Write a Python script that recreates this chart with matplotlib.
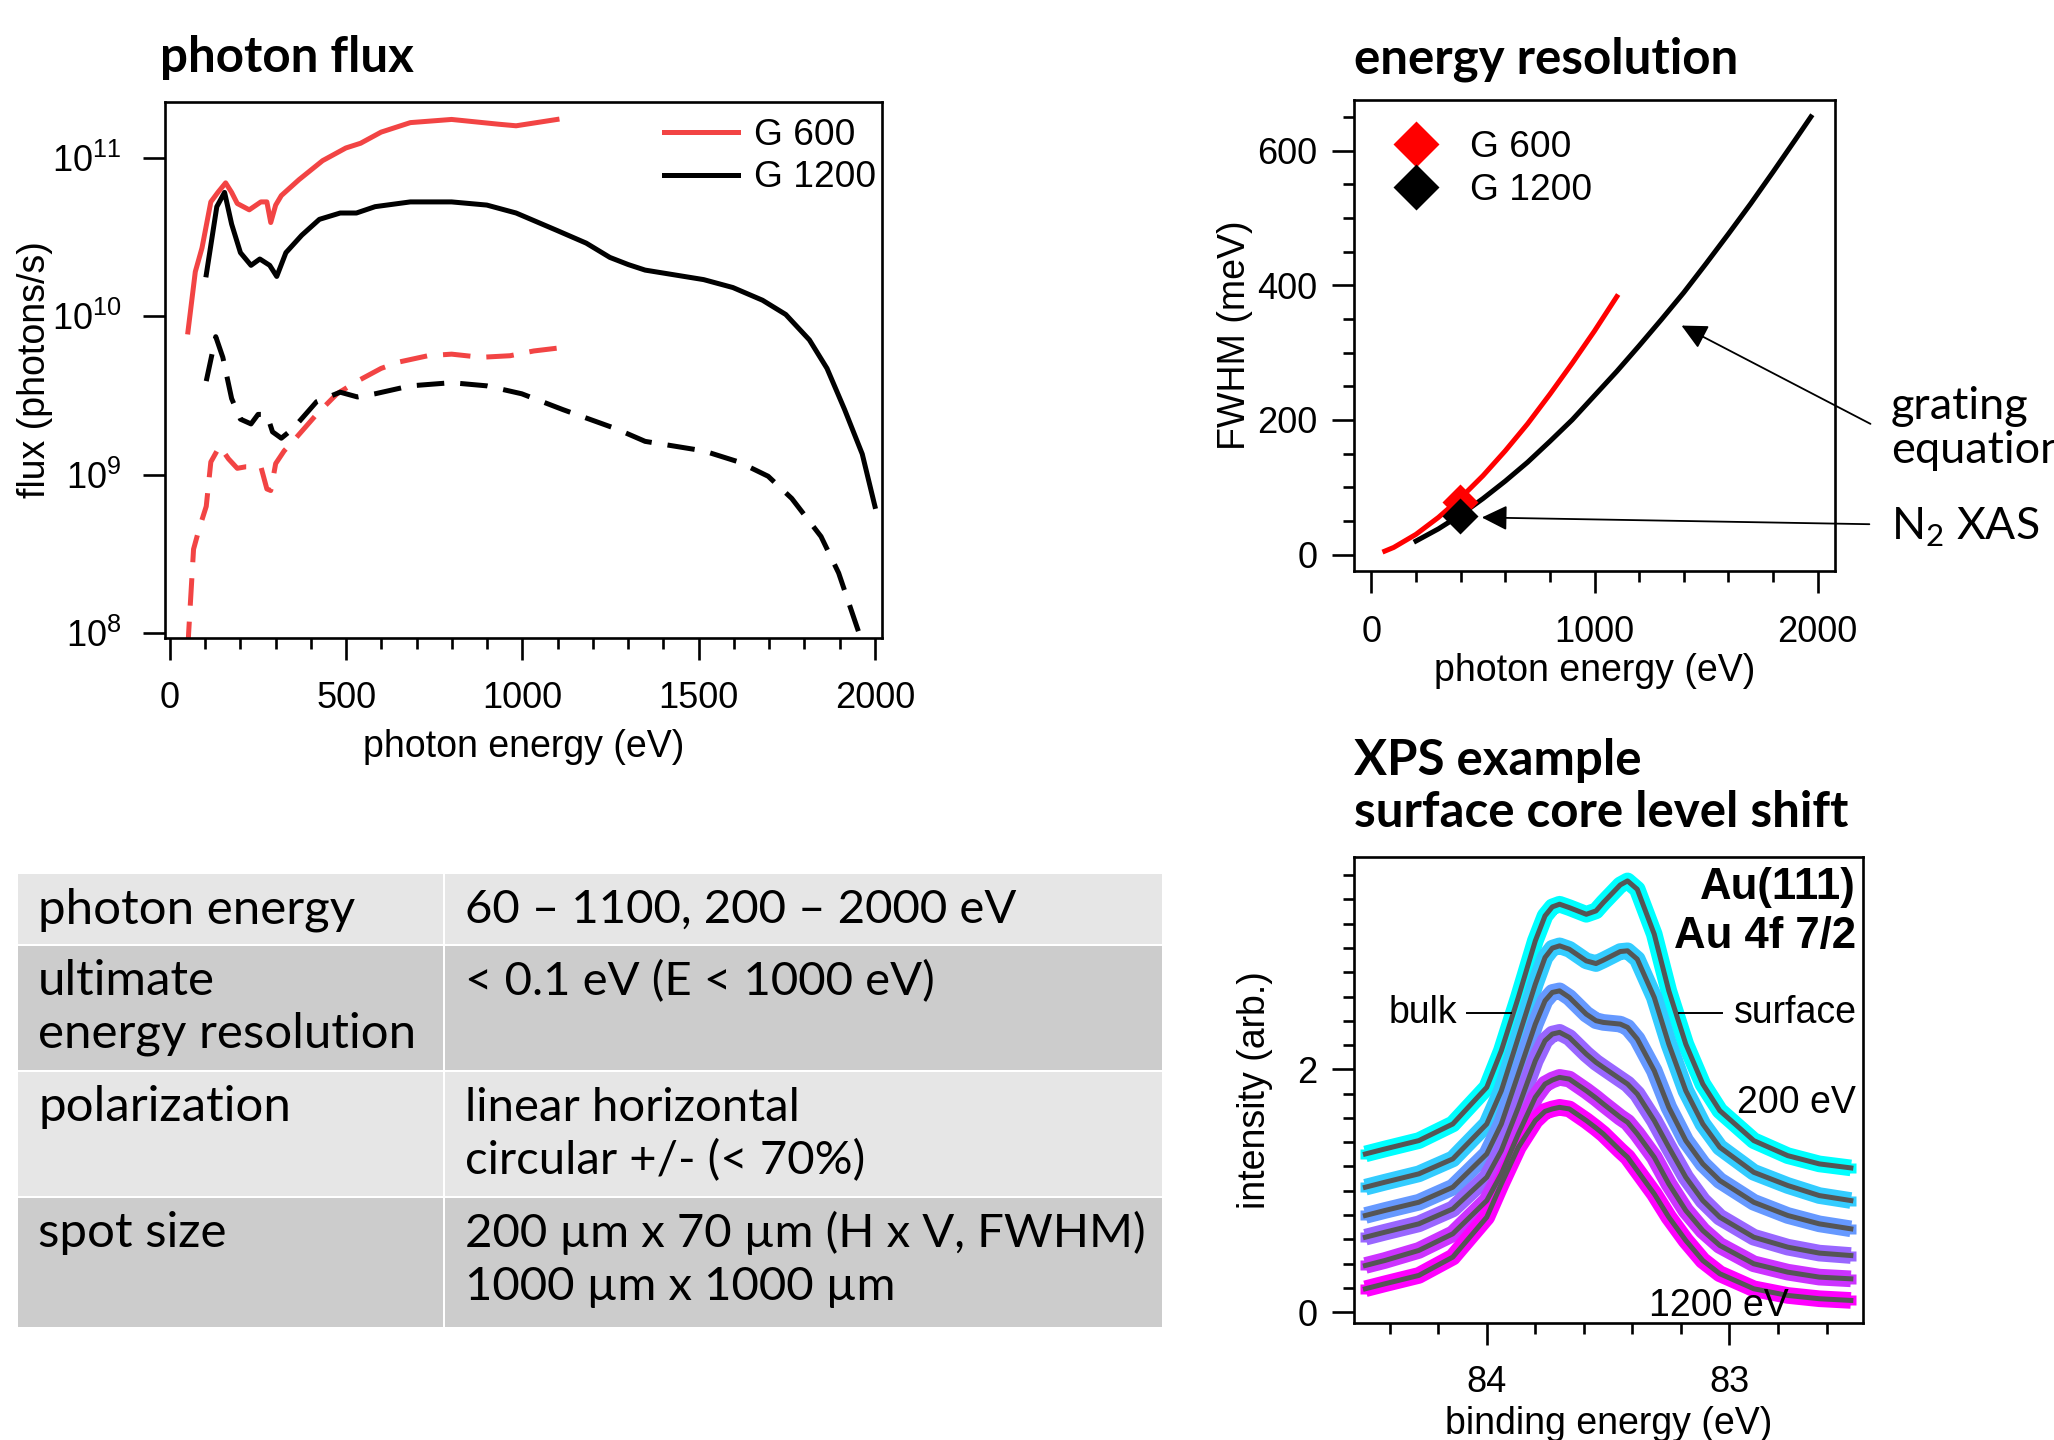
import numpy as np
import matplotlib
matplotlib.use('Agg')
import matplotlib.pyplot as plt
from matplotlib.ticker import MultipleLocator, FixedLocator, FuncFormatter, NullLocator
from matplotlib.patches import Rectangle
from matplotlib.lines import Line2D

# ---------------- data ----------------
# photon flux (log10 of photons/s) vs photon energy (eV)
g600_E = [51, 72, 91, 116, 136, 158, 175, 191, 225, 258, 275, 286, 300, 316, 366, 433, 499, 541, 599, 682, 799, 932, 982, 1098]
g600_log = [9.90, 10.28, 10.43, 10.72, 10.78, 10.84, 10.78, 10.71, 10.67, 10.72, 10.72, 10.59, 10.70, 10.76, 10.86, 10.98, 11.06, 11.09, 11.16, 11.22, 11.24, 11.21, 11.20, 11.24]

g1200_E = [103, 133, 155, 175, 200, 230, 255, 283, 303, 329, 374, 424, 483, 529, 582, 682, 799, 899, 982, 1098, 1181, 1248, 1300, 1348, 1431, 1514, 1597, 1681, 1747, 1814, 1864, 1914, 1964, 2000]
g1200_log = [10.26, 10.69, 10.78, 10.58, 10.40, 10.32, 10.36, 10.32, 10.25, 10.40, 10.51, 10.61, 10.65, 10.65, 10.69, 10.72, 10.72, 10.70, 10.65, 10.54, 10.46, 10.37, 10.325, 10.29, 10.26, 10.23, 10.18, 10.10, 10.01, 9.85, 9.67, 9.41, 9.13, 8.80]

g600d_E = [51, 53, 67, 83, 103, 116, 141, 166, 191, 216, 258, 275, 286, 300, 324, 349, 416, 474, 532, 599, 649, 732, 799, 882, 965, 1032, 1107]
g600d_log = [7.90, 8.00, 8.53, 8.66, 8.80, 9.08, 9.18, 9.10, 9.04, 9.05, 9.05, 8.91, 8.90, 9.07, 9.15, 9.21, 9.38, 9.51, 9.59, 9.67, 9.71, 9.75, 9.76, 9.74, 9.75, 9.78, 9.80]

g1200d_E = [103, 130, 150, 175, 200, 230, 250, 275, 291, 316, 349, 416, 483, 532, 582, 682, 799, 899, 998, 1115, 1265, 1348, 1514, 1614, 1697, 1764, 1847, 1897, 1955]
g1200d_log = [9.59, 9.87, 9.74, 9.48, 9.35, 9.32, 9.38, 9.38, 9.27, 9.23, 9.29, 9.46, 9.52, 9.49, 9.51, 9.56, 9.58, 9.56, 9.51, 9.41, 9.29, 9.21, 9.15, 9.08, 8.99, 8.85, 8.61, 8.38, 8.00]

flux_legend = ["G 600", "G 1200"]

# energy resolution (FWHM, meV) vs photon energy (eV)
res600_E = [60, 100, 200, 300, 400, 500, 600, 700, 800, 900, 1000, 1100]
res600_fwhm = [5, 10.5, 30, 55, 84, 117, 154, 194, 238, 284, 332, 383]
res1200_E = [200, 300, 400, 500, 600, 700, 800, 900, 1000, 1100, 1200, 1300, 1400, 1500, 1600, 1700, 1800, 1900, 1970]
res1200_fwhm = [20, 38, 59, 83, 109, 137, 168, 200, 236, 272, 310, 349, 389, 432, 476, 521, 568, 616, 650]
n2xas_E = [398, 398]
n2xas_fwhm = [78, 57]

# XPS Au 4f7/2, binding energy (eV) and intensity (arb.) for 200..1200 eV photon energy
xps_be = [84.50, 84.42, 84.28, 84.14, 84.00, 83.94, 83.87, 83.80, 83.76, 83.73, 83.70, 83.66, 83.59, 83.55,
          83.52, 83.45, 83.42, 83.38, 83.31, 83.25, 83.18, 83.11, 83.04, 82.90, 82.76, 82.63, 82.50]
xps_200 = [1.303, 1.344, 1.413, 1.550, 1.852, 2.154, 2.593, 3.059, 3.265, 3.339, 3.361, 3.333, 3.278, 3.306,
           3.374, 3.520, 3.553, 3.484, 3.114, 2.647, 2.208, 1.879, 1.660, 1.413, 1.289, 1.221, 1.188]
xps_400 = [1.029, 1.070, 1.139, 1.262, 1.550, 1.824, 2.263, 2.702, 2.922, 2.999, 3.018, 2.990, 2.894, 2.872,
           2.900, 2.971, 2.977, 2.908, 2.593, 2.208, 1.824, 1.550, 1.358, 1.152, 1.043, 0.960, 0.919]
xps_600 = [0.796, 0.837, 0.905, 1.029, 1.303, 1.550, 1.962, 2.373, 2.565, 2.634, 2.647, 2.593, 2.455, 2.401,
           2.387, 2.373, 2.346, 2.250, 1.989, 1.687, 1.413, 1.221, 1.084, 0.905, 0.796, 0.727, 0.686]
xps_800 = [0.617, 0.658, 0.727, 0.850, 1.111, 1.331, 1.687, 2.071, 2.236, 2.291, 2.305, 2.263, 2.126, 2.058,
           2.016, 1.920, 1.879, 1.797, 1.578, 1.358, 1.111, 0.919, 0.782, 0.617, 0.535, 0.486, 0.466]
xps_1000 = [0.384, 0.425, 0.508, 0.645, 0.919, 1.139, 1.468, 1.770, 1.879, 1.912, 1.934, 1.920, 1.824, 1.764,
            1.715, 1.605, 1.564, 1.468, 1.276, 1.056, 0.837, 0.672, 0.549, 0.398, 0.329, 0.288, 0.274]
xps_1200 = [0.192, 0.233, 0.302, 0.453, 0.782, 1.056, 1.358, 1.578, 1.654, 1.674, 1.687, 1.674, 1.578, 1.517,
            1.468, 1.331, 1.276, 1.166, 0.974, 0.782, 0.590, 0.425, 0.316, 0.192, 0.137, 0.110, 0.096]
xps_series = [xps_200, xps_400, xps_600, xps_800, xps_1000, xps_1200]

# table
table_left = [["photon energy"], ["ultimate", "energy resolution"], ["polarization"], ["spot size"]]
table_right = [["60 \u2013 1100, 200 \u2013 2000 eV"], ["< 0.1 eV (E < 1000 eV)"],
               ["linear horizontal", "circular +/- (< 70%)"],
               ["200 \u00b5m x 70 \u00b5m (H x V, FWHM)", "1000 \u00b5m x 1000 \u00b5m"]]

# ---------------- style ----------------
W, H, DPI = 2054, 1440, 100
plt.rcParams['font.family'] = ['Liberation Sans', 'DejaVu Sans']
plt.rcParams['mathtext.fontset'] = 'custom'
plt.rcParams['mathtext.rm'] = 'Liberation Sans'
plt.rcParams['mathtext.it'] = 'Liberation Sans:italic'
plt.rcParams['mathtext.bf'] = 'Liberation Sans:bold'

TITLE = dict(family=['Lato', 'DejaVu Sans'], fontweight='bold', fontsize=35.5)
LATO = ['Lato', 'DejaVu Sans']
LW = 3.6
TICK_FS = 26
LABEL_FS = 27

fig = plt.figure(figsize=(W / DPI, H / DPI), dpi=DPI)


def fx(x):
    return x / W


def fy(y):
    return 1 - y / H


def px_axes(l, t, r, b):
    return fig.add_axes([l / W, 1 - b / H, (r - l) / W, (b - t) / H])


def style(ax, xpad, ypad):
    for s in ax.spines.values():
        s.set_linewidth(1.9)
    ax.tick_params(which='both', direction='out', width=1.9, top=False, right=False)
    ax.tick_params(which='major', length=15.5)
    ax.tick_params(which='minor', length=8.2)
    ax.tick_params(axis='x', which='both', labelsize=TICK_FS, pad=xpad)
    ax.tick_params(axis='y', which='both', labelsize=TICK_FS, pad=ypad)


# ---------------- photon flux ----------------
RED1 = '#f24444'
ax1 = px_axes(165, 102, 882, 638)
ax1.set_yscale('log')
l600, = ax1.plot(g600_E, 10 ** np.array(g600_log), color=RED1, lw=LW, solid_joinstyle='round')
l1200, = ax1.plot(g1200_E, 10 ** np.array(g1200_log), color='black', lw=LW, solid_joinstyle='round')
ax1.plot(g600d_E, 10 ** np.array(g600d_log), color=RED1, lw=LW, dashes=(5.5, 3.2))
ax1.plot(g1200d_E, 10 ** np.array(g1200d_log), color='black', lw=LW, dashes=(5.5, 3.2))
ax1.set_xlim(-14, 2020)
ax1.set_ylim(10 ** 7.97, 10 ** 11.35)
ax1.xaxis.set_major_locator(MultipleLocator(500))
ax1.xaxis.set_minor_locator(MultipleLocator(100))
ax1.yaxis.set_major_locator(FixedLocator([1e8, 1e9, 1e10, 1e11]))
ax1.yaxis.set_minor_locator(NullLocator())
ax1.yaxis.set_major_formatter(FuncFormatter(lambda v, p: r'$\mathregular{10^{%d}}$' % round(np.log10(v))))
style(ax1, 15.5, 16)
ax1.set_xlabel('photon energy (eV)', fontsize=LABEL_FS, labelpad=9)
ax1.set_ylabel('flux (photons/s)', fontsize=LABEL_FS, labelpad=-1)
ax1.legend([l600, l1200], flux_legend, loc='upper left', bbox_to_anchor=(0.696, 0.970), frameon=False,
           borderpad=0, borderaxespad=0, handlelength=2.0, handletextpad=0.42, labelspacing=0.2, fontsize=26.7)
fig.text(fx(160), fy(72), 'photon flux', va='baseline', ha='left', **TITLE)

# ---------------- energy resolution ----------------
ax2 = px_axes(1354, 100, 1835, 571)
ax2.plot(res600_E, res600_fwhm, color='#ff0000', lw=LW)
ax2.plot(res1200_E, res1200_fwhm, color='black', lw=LW)
p600, = ax2.plot(n2xas_E[0], n2xas_fwhm[0], ls='none', marker='D', ms=18, color='#ff0000', mec='none')
p1200, = ax2.plot(n2xas_E[1], n2xas_fwhm[1], ls='none', marker='D', ms=18, color='black', mec='none')
ax2.set_xlim(-78, 2078)
ax2.set_ylim(-24.5, 675)
ax2.xaxis.set_major_locator(MultipleLocator(1000))
ax2.xaxis.set_minor_locator(MultipleLocator(200))
ax2.yaxis.set_major_locator(MultipleLocator(200))
ax2.yaxis.set_minor_locator(MultipleLocator(50))
style(ax2, 16.5, 11)
ax2.set_xlabel('photon energy (eV)', fontsize=LABEL_FS, labelpad=2)
ax2.set_ylabel('FWHM (meV)', fontsize=LABEL_FS, labelpad=3)
ax2.legend([p600, p1200], flux_legend, loc='upper left', bbox_to_anchor=(0.090, 0.936), frameon=False,
           borderpad=0, borderaxespad=0, handlelength=1.0, handletextpad=0.95, labelspacing=0.2,
           fontsize=26.7, markerscale=1.32, numpoints=1)
arrow = dict(arrowstyle='-|>,head_length=0.65,head_width=0.32', mutation_scale=24, lw=1.3, color='black',
             shrinkA=0, shrinkB=0)
ax2.annotate('', xy=(1390, 340), xytext=(2237, 194), arrowprops=arrow, annotation_clip=False)
ax2.annotate('', xy=(495, 55), xytext=(2232, 45), arrowprops=arrow, annotation_clip=False)
fig.text(fx(1891), fy(419), 'grating', family=LATO, fontsize=32.5, va='baseline', ha='left')
fig.text(fx(1891), fy(463), 'equation', family=LATO, fontsize=32.5, va='baseline', ha='left')
fig.text(fx(1891), fy(540), r'N$_{\mathregular{2}}$ XAS', family=LATO, fontsize=32, va='baseline', ha='left')
fig.text(fx(1354), fy(74), 'energy resolution', va='baseline', ha='left', **TITLE)

# ---------------- XPS ----------------
ax3 = px_axes(1354, 857, 1863, 1323)
cols = plt.cm.cool(np.linspace(0, 1, len(xps_series)))
for c, y in zip(cols, xps_series):
    ax3.plot(xps_be, y, color=c, lw=12, solid_capstyle='butt', solid_joinstyle='round')
    ax3.plot(xps_be, y, ls='none', marker='s', ms=7, color=c, mec='none')
for y in xps_series:
    ax3.plot(xps_be, y, color='#555555', lw=LW, solid_joinstyle='round')
ax3.set_xlim(84.547, 82.45)
ax3.set_ylim(-0.09, 3.75)
ax3.xaxis.set_major_locator(FixedLocator([84, 83]))
ax3.xaxis.set_minor_locator(FixedLocator([84.4, 84.2, 83.8, 83.6, 83.4, 83.2, 82.8, 82.6]))
ax3.yaxis.set_major_locator(MultipleLocator(2))
ax3.yaxis.set_minor_locator(MultipleLocator(0.2))
style(ax3, 15, 11)
ax3.set_xlabel('binding energy (eV)', fontsize=LABEL_FS, labelpad=4)
ax3.set_ylabel('intensity (arb.)', fontsize=LABEL_FS, labelpad=17)

fig.text(fx(1856), fy(899), 'Au(111)', fontsize=31.5, fontweight='bold', ha='right', va='baseline')
fig.text(fx(1856), fy(948), 'Au 4f 7/2', fontsize=31.5, fontweight='bold', ha='right', va='baseline')
fig.text(fx(1389), fy(1023), 'bulk', fontsize=27, ha='left', va='baseline')
fig.text(fx(1734), fy(1023), 'surface', fontsize=27, ha='left', va='baseline')
fig.text(fx(1856), fy(1113), '200 eV', fontsize=27, ha='right', va='baseline')
fig.text(fx(1649), fy(1316), '1200 eV', fontsize=27, ha='left', va='baseline')
fig.add_artist(Line2D([fx(1467), fx(1511)], [fy(1013), fy(1013)], color='black', lw=1.4, transform=fig.transFigure))
fig.add_artist(Line2D([fx(1679), fx(1722)], [fy(1013), fy(1013)], color='black', lw=1.4, transform=fig.transFigure))
fig.text(fx(1354), fy(775), 'XPS example', va='baseline', ha='left', **TITLE)
fig.text(fx(1354), fy(827), 'surface core level shift', va='baseline', ha='left', **TITLE)

# ---------------- table ----------------
row_tops = [874, 946, 1072, 1198]
row_bots = [944, 1070, 1196, 1327]
row_cols = ['#e6e6e6', '#cccccc', '#e6e6e6', '#cccccc']
col_l = [(18, 443), (445, 1162)]
text_x = [38, 465]
text_fs = [35.5, 34]
for i in range(4):
    t, b = row_tops[i], row_bots[i]
    for (l, r) in col_l:
        fig.add_artist(Rectangle((fx(l), fy(b)), (r - l) / W, (b - t) / H, transform=fig.transFigure,
                                 facecolor=row_cols[i], edgecolor='none'))
    for j, cell in enumerate([table_left[i], table_right[i]]):
        for k, line in enumerate(cell):
            fig.text(fx(text_x[j]), fy(t + 49 + 53 * k), line, family=LATO, fontsize=text_fs[j],
                     ha='left', va='baseline')

fig.savefig('out.png', dpi=DPI)
